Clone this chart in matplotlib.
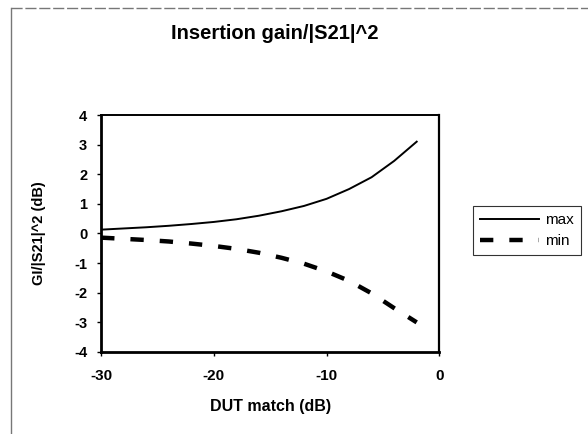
import matplotlib
matplotlib.use("Agg")
import matplotlib.pyplot as plt
from matplotlib.lines import Line2D

plt.rcParams["font.family"] = ["Liberation Sans", "DejaVu Sans"]
plt.rcParams["axes.unicode_minus"] = False

# DUT match (dB) and the bounds of insertion gain / |S21|^2 (dB)
dut_match = [-30, -28, -26, -24, -22, -20, -18, -16, -14, -12, -10, -8, -6, -4, -2]
gain_max = [0.13, 0.17, 0.21, 0.26, 0.32, 0.39, 0.48, 0.60, 0.75, 0.93, 1.17, 1.50, 1.90, 2.45, 3.10]
gain_min = [-0.14, -0.18, -0.22, -0.27, -0.34, -0.42, -0.52, -0.65, -0.82, -1.02, -1.28, -1.60, -2.02, -2.52, -3.00]

x_ticks = [-30, -20, -10, 0]
y_ticks = [-4, -3, -2, -1, 0, 1, 2, 3, 4]

fig = plt.figure(figsize=(5.88, 4.34), dpi=100)
ax = fig.add_axes([0.172, 0.189, 0.575, 0.546])

ax.plot(dut_match, gain_max, color="black", lw=1.4, label="max")
ax.plot(dut_match, gain_min, color="black", lw=3.2, dashes=(3.0, 3.6), label="min")

ax.set_xlim(-30, 0)
ax.set_ylim(-4, 4)
ax.set_xticks(x_ticks)
ax.set_yticks(y_ticks)
ax.tick_params(axis="x", labelsize=11, length=3, width=1, direction="out", pad=9)
ax.tick_params(axis="y", labelsize=10.5, length=3, width=1, direction="out", pad=7)
for lab in ax.get_xticklabels() + ax.get_yticklabels():
    lab.set_fontweight("bold")

for side, w in (("left", 2.0), ("bottom", 2.0), ("top", 1.4), ("right", 1.6)):
    ax.spines[side].set_linewidth(w)
    ax.spines[side].set_color("black")

ax.set_xlabel("DUT match (dB)", fontsize=11.5, fontweight="bold", labelpad=12)
ax.set_ylabel("GI/|S21|^2 (dB)", fontsize=10.5, fontweight="bold", labelpad=20)

fig.text(0.468, 0.922, "Insertion gain/|S21|^2", ha="center", va="center",
         fontsize=14.5, fontweight="bold")

leg = fig.legend(loc="upper left", bbox_to_anchor=(0.804, 0.525), frameon=True,
                 fancybox=False, fontsize=11, handlelength=3.9, handletextpad=0.4,
                 borderpad=0.45, labelspacing=0.45, borderaxespad=0)
leg.get_frame().set_edgecolor("black")
leg.get_frame().set_linewidth(0.8)

# scanned chart border (top and left)
fig.add_artist(Line2D([0.019, 0.019], [0.0, 0.982], transform=fig.transFigure,
                      color="#777777", lw=1.0))
fig.add_artist(Line2D([0.019, 1.0], [0.982, 0.982], transform=fig.transFigure,
                      color="#777777", lw=1.0, ls=(0, (8, 2))))

fig.savefig("out.png", dpi=100)
